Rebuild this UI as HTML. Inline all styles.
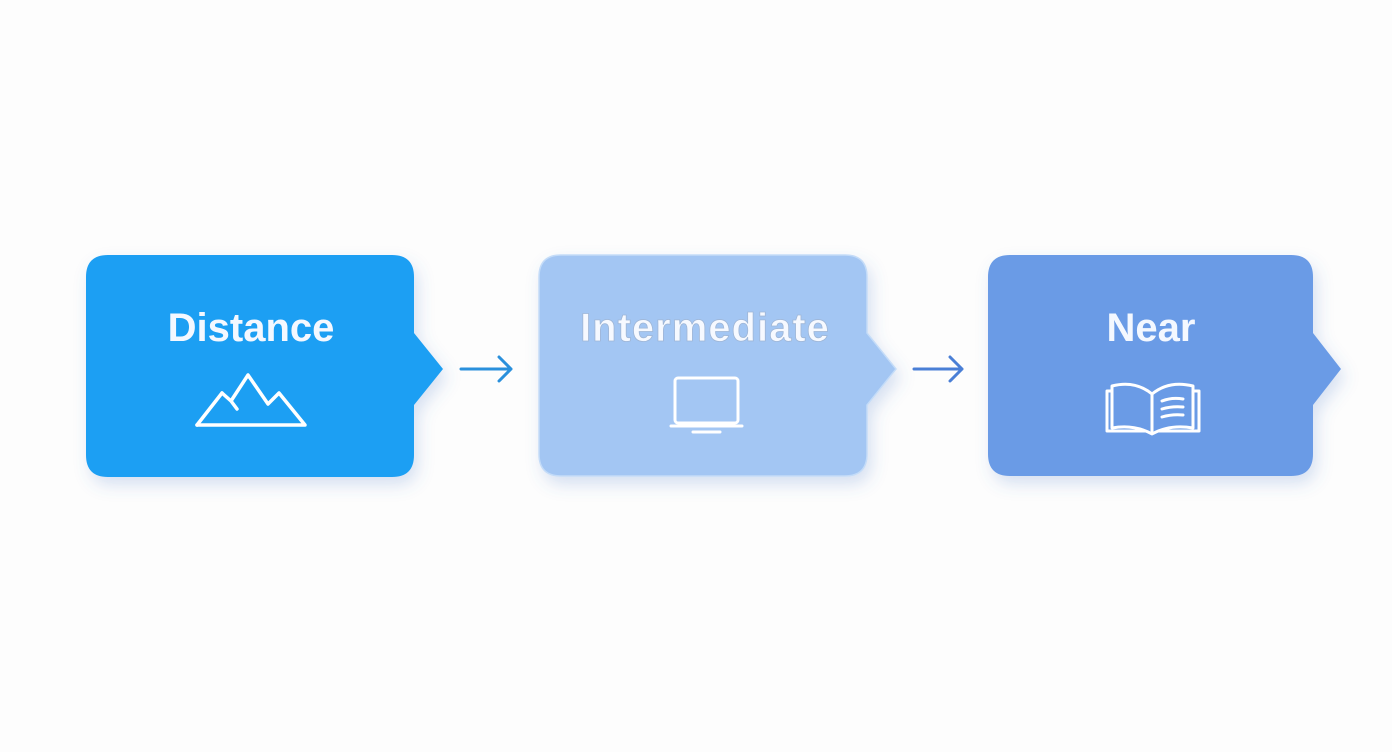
<!DOCTYPE html>
<html><head><meta charset="utf-8"><style>
html,body{margin:0;padding:0;background:#fdfdfd;}
svg{display:block}
text{font-family:"Liberation Sans",sans-serif;font-weight:bold;font-size:40px;}
</style></head><body>
<svg width="1392" height="752" viewBox="0 0 1392 752" xmlns="http://www.w3.org/2000/svg">
<defs>
<filter id="sh" x="-20%" y="-20%" width="140%" height="150%">
<feDropShadow dx="4" dy="8" stdDeviation="8" flood-color="#4a78c8" flood-opacity="0.22"/>
</filter>
</defs>
<!-- Box 1 -->
<path filter="url(#sh)" fill="#1f9ff3" d="M108,255 H392 Q414,255 414,277 V333 L443,369 L414,405 V455 Q414,477 392,477 H108 Q86,477 86,455 V277 Q86,255 108,255 Z"/>
<text x="251" y="341" fill="#f4f8ff" text-anchor="middle">Distance</text>
<g fill="none" stroke="#fff" stroke-width="3.5" stroke-linejoin="round" stroke-linecap="round">
<path d="M197,425 H305 L279,393 L268,404 L248,375 L231,401 L237,409 M231,401 L222,393 Z"/>
<path d="M197,425 L222,393"/>
</g>
<!-- arrow 1 -->
<g stroke="#2a90dc" stroke-width="3" fill="none" stroke-linecap="round" stroke-linejoin="round">
<path d="M461,369 H511 M499,357 L511,369 L499,381"/>
</g>
<!-- Box 2 -->
<path filter="url(#sh)" fill="#a3c6f3" stroke="#c4dcf8" stroke-width="1.5" d="M561,255 H845 Q867,255 867,277 V333 L896,369 L867,405 V454 Q867,476 845,476 H561 Q539,476 539,454 V277 Q539,255 561,255 Z"/>
<text x="705" y="341" fill="#f6f9ff" stroke="#9fb6d6" stroke-width="0.8" text-anchor="middle" letter-spacing="1">Intermediate</text>
<g fill="none" stroke="#fff" stroke-width="3" stroke-linejoin="round" stroke-linecap="round">
<rect x="675" y="378" width="63" height="45" rx="3"/>
<path d="M671,426 H742 M693,432 H720"/>
</g>
<!-- arrow 2 -->
<g stroke="#4a7fd6" stroke-width="3" fill="none" stroke-linecap="round" stroke-linejoin="round">
<path d="M914,369 H962 M950,357 L962,369 L950,381"/>
</g>
<!-- Box 3 -->
<path filter="url(#sh)" fill="#6a9be6" d="M1010,255 H1291 Q1313,255 1313,277 V333 L1341,369 L1313,405 V454 Q1313,476 1291,476 H1010 Q988,476 988,454 V277 Q988,255 1010,255 Z"/>
<text x="1151" y="341" fill="#f4f8ff" text-anchor="middle">Near</text>
<g fill="none" stroke="#fff" stroke-width="3" stroke-linejoin="round" stroke-linecap="round">
<path d="M1112,386 Q1135,380 1152,394 Q1169,380 1193,386 V428 Q1170,424 1152,434 Q1134,424 1112,428 Z"/>
<path d="M1152,394 V432"/>
<path d="M1112,391 H1107 V431 H1145 M1193,391 H1199 V431 H1159"/>
<path d="M1162,401 Q1172,397 1183,399 M1162,409 Q1172,406 1183,407 M1162,417 Q1172,414 1183,415"/>
</g>
</svg>
</body></html>
